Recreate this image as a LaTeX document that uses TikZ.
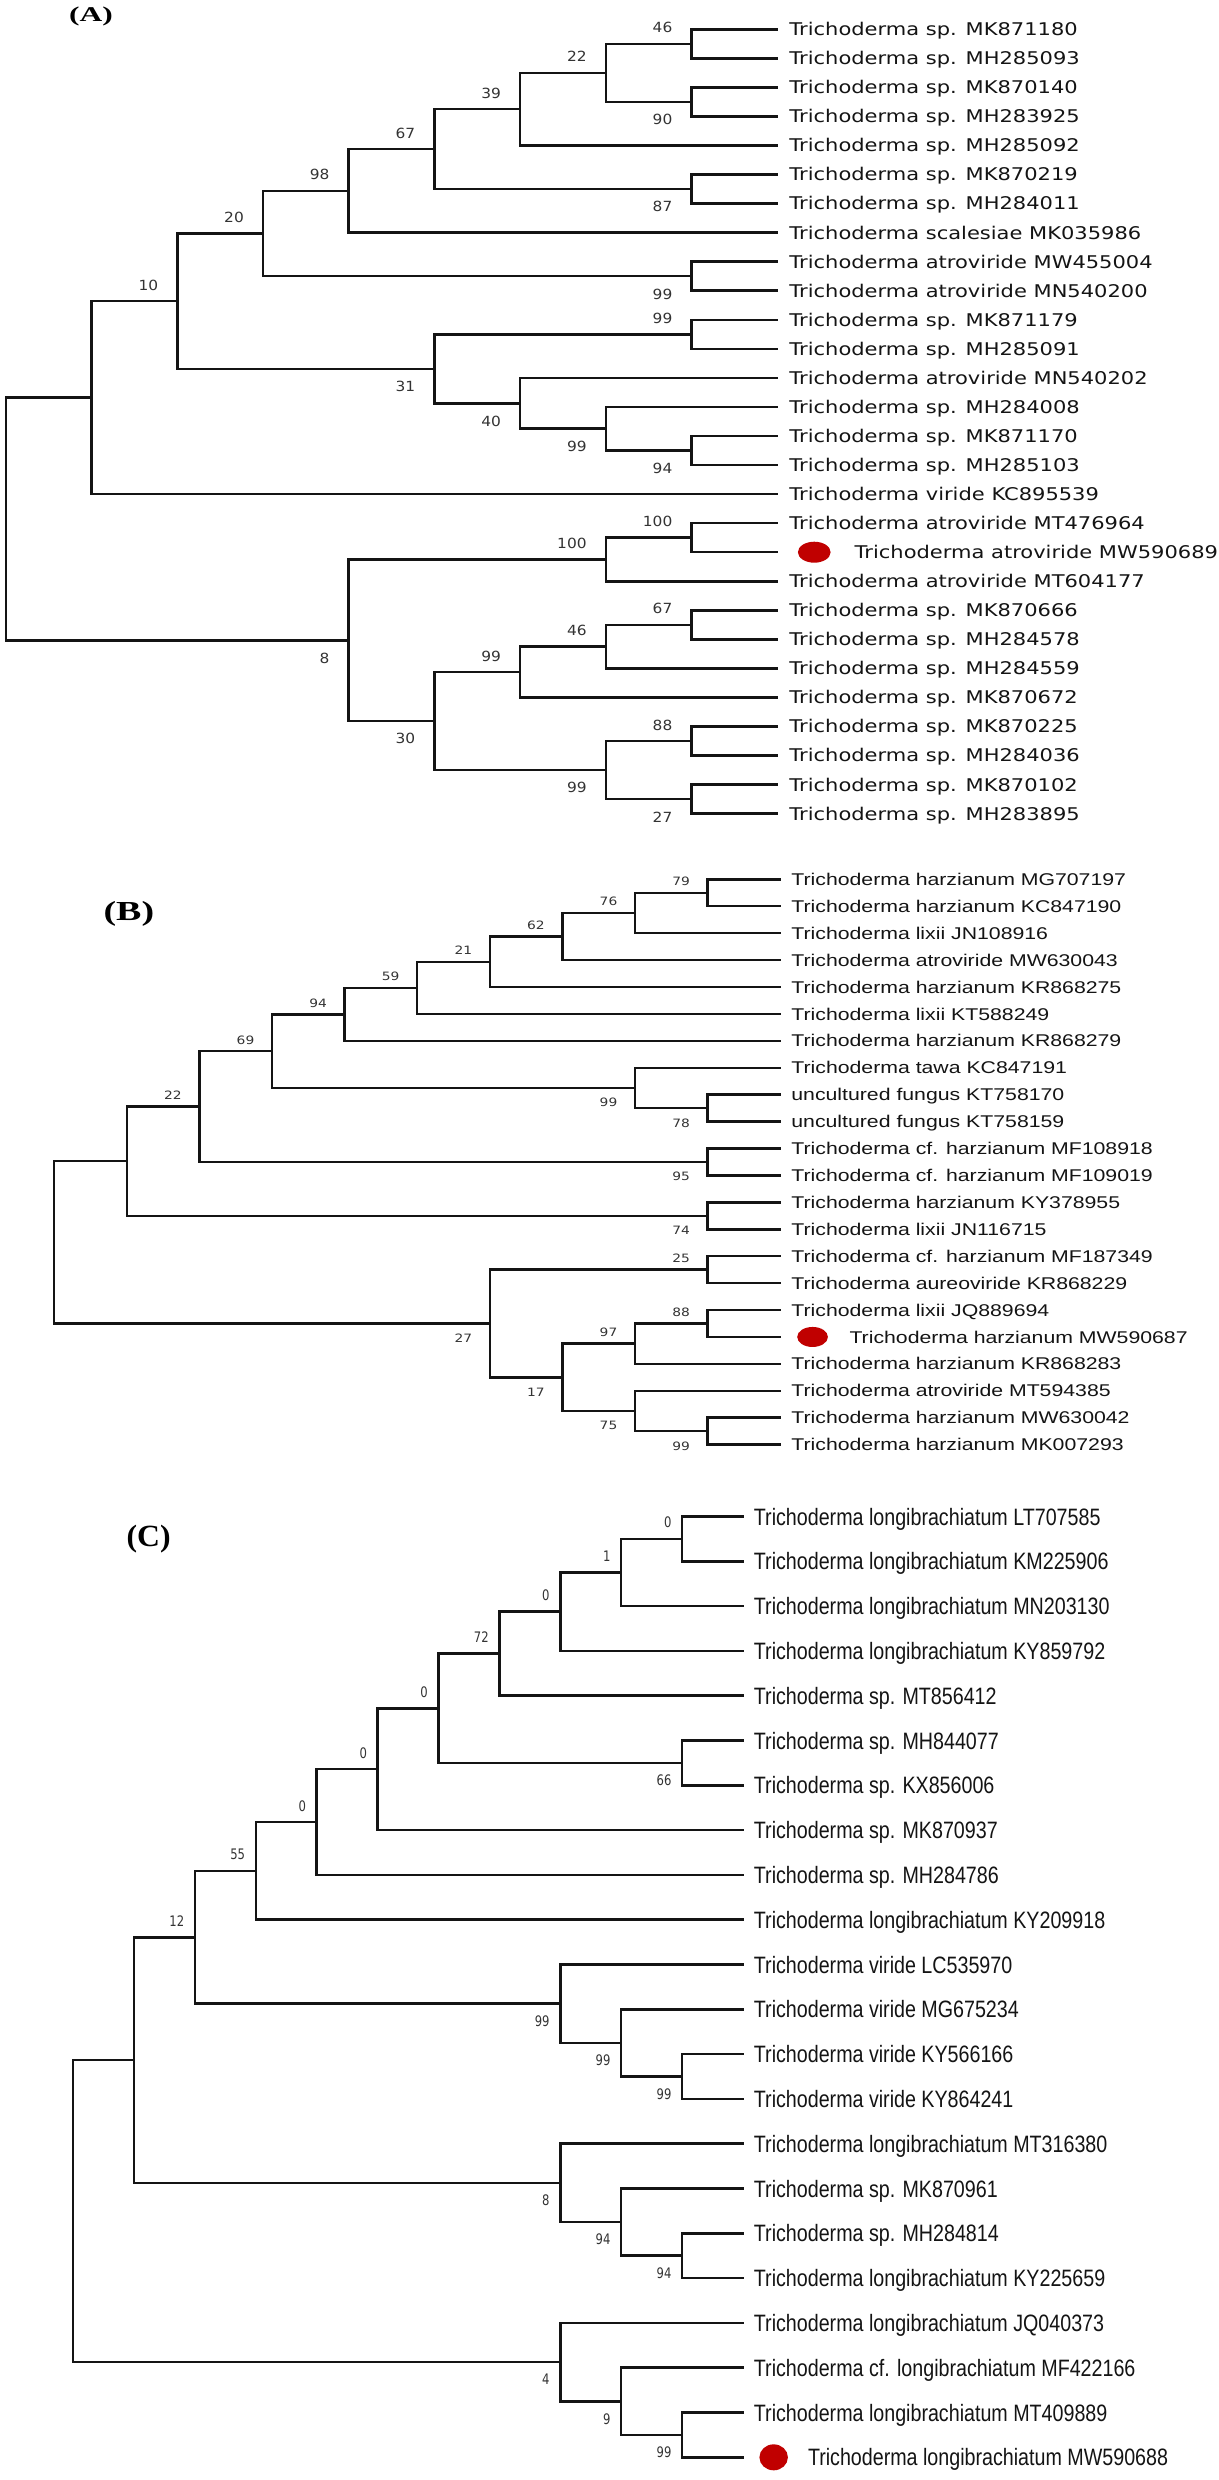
\documentclass[tikz,border=0pt]{standalone}
\usepackage{fontspec}
\usetikzlibrary{positioning,shapes.geometric}
\definecolor{ink}{HTML}{141414}
\definecolor{lbl}{HTML}{333333}
\definecolor{dotred}{HTML}{C00000}
\newfontfamily\tipAfont[FakeStretch=1.2]{DejaVu Sans}
\newfontfamily\tipBfont[FakeStretch=1.25]{Liberation Sans}
\newfontfamily\tipCfont[FakeStretch=0.83]{Liberation Sans}
\newfontfamily\bsAfont[FakeStretch=1.1]{DejaVu Sans}
\newfontfamily\bsBfont[FakeStretch=1.2]{DejaVu Sans}
\newfontfamily\bsCfont[FakeStretch=0.8]{DejaVu Sans}
\newfontfamily\panAfont[FakeStretch=1.5]{Liberation Serif}
\newfontfamily\panBfont[FakeStretch=1.38]{Liberation Serif}
\newfontfamily\panCfont[FakeStretch=1.03]{Liberation Serif}

\begin{document}
\begin{tikzpicture}[x=1pt,y=-1pt,
    branch/.style={line width=2.5pt,line cap=rect,draw=ink},
    tipA/.style={font=\tipAfont\fontsize{17.5}{20}\selectfont,text=ink,inner sep=0pt,text height=12.8pt,text depth=0pt},
    tipB/.style={font=\tipBfont\fontsize{17}{20}\selectfont,text=ink,inner sep=0pt,text height=12.2pt,text depth=0pt},
    tipC/.style={font=\tipCfont\fontsize{23.7}{26}\selectfont,text=ink,inner sep=0pt,text height=17pt,text depth=0pt},
    supA/.style={font=\bsAfont\fontsize{14}{14}\selectfont,text=lbl,anchor=east,inner sep=0pt,text height=10.2pt,text depth=0pt,xshift=-19pt,yshift=#1pt},
    supB/.style={font=\bsBfont\fontsize{11.5}{12}\selectfont,text=lbl,anchor=east,inner sep=0pt,text height=8.4pt,text depth=0pt,xshift=-17.5pt,yshift=#1pt},
    supC/.style={font=\bsCfont\fontsize{14.5}{15}\selectfont,text=lbl,anchor=east,inner sep=0pt,text height=10.6pt,text depth=0pt,xshift=-10.5pt,yshift=#1pt},
    dotmark/.style={ellipse,fill=dotred,inner sep=0pt},
    panel/.style={inner sep=0pt,text=black}]

  \fill[white] (0,0) rectangle (1218,2480);
  \useasboundingbox (0,0) rectangle (1218,2480);

  % (A)
  \node[panel,font=\panAfont\bfseries\fontsize{21}{23}\selectfont] (pA) at (90.9,16) {(A)};
  \foreach \i in {1,...,28}
    \coordinate (a\i) at ({5.9+85.7*9},{29.3+(\i-1)*29.05});
  \foreach \nm/\kk/\ty in {aN46/8/1.5,aN90/8/3.5,aN22/7/2.5,aN39/6/3.75,aN87/8/6.5,aN67/5/5.125,
      aN98/4/6.5625,aN99a/8/9.5,aN20/3/8.03125,aN99b/8/11.5,aN94/8/15.5,aN99c/7/14.75,
      aN40/6/13.875,aN31/5/12.6875,aN10/2/10.359375,aNtop/1/13.6796875,aN100b/8/18.5,
      aN100a/7/19.25,aN67b/8/21.5,aN46b/7/22.25,aN99d/6/23.125,aN88/8/25.5,aN27/8/27.5,
      aN99e/7/26.5,aN30/5/24.8125,aN8/4/22.03125,aRoot/0/17.85546875}
    \coordinate (\nm) at ({5.9+85.7*\kk},{29.3+(\ty-1)*29.05});
  \foreach \p/\c/\d in {aN46/a1/a2,aN90/a3/a4,aN22/aN46/aN90,aN39/aN22/a5,aN87/a6/a7,
      aN67/aN39/aN87,aN98/aN67/a8,aN99a/a9/a10,aN20/aN98/aN99a,aN99b/a11/a12,aN94/a15/a16,
      aN99c/a14/aN94,aN40/a13/aN99c,aN31/aN99b/aN40,aN10/aN20/aN31,aNtop/aN10/a17,
      aN100b/a18/a19,aN100a/aN100b/a20,aN67b/a21/a22,aN46b/aN67b/a23,aN99d/aN46b/a24,
      aN88/a25/a26,aN27/a27/a28,aN99e/aN88/aN27,aN30/aN99d/aN99e,aN8/aN100a/aN30,
      aRoot/aNtop/aN8}
    \draw[branch] (\c) -| (\p) |- (\d);
  \foreach \nm/\v/\s in {aN46/46/16,aN90/90/-17.8,aN22/22/16,aN39/39/16,aN87/87/-17.8,
      aN67/67/16,aN98/98/16,aN99a/99/-17.8,aN20/20/16,aN10/10/16,aN99b/99/16,aN31/31/-17.8,
      aN40/40/-17.8,aN99c/99/-17.8,aN94/94/-17.8,aN100b/100/16,aN100a/100/16,aN8/8/-17.8,
      aN30/30/-17.8,aN99d/99/16,aN46b/46/16,aN67b/67/16,aN88/88/16,aN99e/99/-17.8,aN27/27/-17.8}
    \node[supA=\s] (l\nm) at (\nm) {\v};
  \foreach \i/\txt in {1/Trichoderma sp. MK871180,2/Trichoderma sp. MH285093,
      3/Trichoderma sp. MK870140,4/Trichoderma sp. MH283925,5/Trichoderma sp. MH285092,
      6/Trichoderma sp. MK870219,7/Trichoderma sp. MH284011,8/Trichoderma scalesiae MK035986,
      9/Trichoderma atroviride MW455004,10/Trichoderma atroviride MN540200,
      11/Trichoderma sp. MK871179,12/Trichoderma sp. MH285091,13/Trichoderma atroviride MN540202,
      14/Trichoderma sp. MH284008,15/Trichoderma sp. MK871170,16/Trichoderma sp. MH285103,
      17/Trichoderma viride KC895539,18/Trichoderma atroviride MT476964,
      20/Trichoderma atroviride MT604177,21/Trichoderma sp. MK870666,22/Trichoderma sp. MH284578,
      23/Trichoderma sp. MH284559,24/Trichoderma sp. MK870672,25/Trichoderma sp. MK870225,
      26/Trichoderma sp. MH284036,27/Trichoderma sp. MK870102,28/Trichoderma sp. MH283895}
    \node[tipA,right=12pt of a\i] (la\i) {\txt};
  \node[dotmark,minimum width=32.7pt,minimum height=21pt,right=20.5pt of a19] (da19) {};
  \node[tipA,right=23.7pt of da19] (la19) {Trichoderma atroviride MW590689};

  % (B)
  \node[panel,font=\panBfont\bfseries\fontsize{27.5}{30}\selectfont] (pB) at (128.9,914.2) {(B)};
  \foreach \i in {1,...,22}
    \coordinate (b\i) at ({54.2+72.6*10},{879.3+(\i-1)*26.92});
  \foreach \nm/\kk/\ty in {bN79/9/1.5,bN76/8/2.25,bN62/7/3.125,bN21/6/4.0625,bN59/5/5.03125,
      bN94/4/6.015625,bN78/9/9.5,bN99/8/8.75,bN69/3/7.3828125,bN95/9/11.5,bN22/2/9.44140625,
      bN74/9/13.5,bNtop/1/11.470703125,bN25/9/15.5,bN88/9/17.5,bN97/8/18.25,bN99b/9/21.5,
      bN75/8/20.75,bN17/7/19.5,bN27/6/17.5,bRoot/0/14.4853515625}
    \coordinate (\nm) at ({54.2+72.6*\kk},{879.3+(\ty-1)*26.92});
  \foreach \p/\c/\d in {bN79/b1/b2,bN76/bN79/b3,bN62/bN76/b4,bN21/bN62/b5,bN59/bN21/b6,
      bN94/bN59/b7,bN78/b9/b10,bN99/b8/bN78,bN69/bN94/bN99,bN95/b11/b12,bN22/bN69/bN95,
      bN74/b13/b14,bNtop/bN22/bN74,bN25/b15/b16,bN88/b17/b18,bN97/bN88/b19,bN99b/b21/b22,
      bN75/b20/bN99b,bN17/bN97/bN75,bN27/bN25/bN17,bRoot/bNtop/bN27}
    \draw[branch] (\c) -| (\p) |- (\d);
  \foreach \nm/\v/\s in {bN79/79/11.3,bN76/76/11.3,bN62/62/11.3,bN21/21/11.3,bN59/59/11.3,
      bN94/94/11.3,bN69/69/11.3,bN22/22/11.3,bN99/99/-14.7,bN78/78/-14.7,bN95/95/-14.7,
      bN74/74/-14.7,bN25/25/11.3,bN88/88/11.3,bN97/97/11.3,bN17/17/-14.7,bN27/27/-14.7,
      bN75/75/-14.7,bN99b/99/-14.7}
    \node[supB=\s] (l\nm) at (\nm) {\v};
  \foreach \i/\txt in {1/Trichoderma harzianum MG707197,2/Trichoderma harzianum KC847190,
      3/Trichoderma lixii JN108916,4/Trichoderma atroviride MW630043,
      5/Trichoderma harzianum KR868275,6/Trichoderma lixii KT588249,
      7/Trichoderma harzianum KR868279,8/Trichoderma tawa KC847191,9/uncultured fungus KT758170,
      10/uncultured fungus KT758159,11/Trichoderma cf. harzianum MF108918,
      12/Trichoderma cf. harzianum MF109019,13/Trichoderma harzianum KY378955,
      14/Trichoderma lixii JN116715,15/Trichoderma cf. harzianum MF187349,
      16/Trichoderma aureoviride KR868229,17/Trichoderma lixii JQ889694,
      19/Trichoderma harzianum KR868283,20/Trichoderma atroviride MT594385,
      21/Trichoderma harzianum MW630042,22/Trichoderma harzianum MK007293}
    \node[tipB,right=11pt of b\i] (lb\i) {\txt};
  \node[dotmark,minimum width=30.7pt,minimum height=20pt,right=16.8pt of b18] (db18) {};
  \node[tipB,right=21.2pt of db18] (lb18) {Trichoderma harzianum MW590687};

  % (C)
  \node[panel,font=\panCfont\bfseries\fontsize{30.8}{33}\selectfont] (pC) at (148.7,1539) {(C)};
  \foreach \i in {1,...,22}
    \coordinate (c\i) at ({73.1+60.9*11},{1516.5+(\i-1)*44.8});
  \foreach \nm/\kk/\ty in {cN0a/10/1.5,cN1/9/2.25,cN0b/8/3.125,cN72/7/4.0625,cN66/10/6.5,
      cN0c/6/5.28125,cN0d/5/6.640625,cN0e/4/7.8203125,cN55/3/8.91015625,cN99c/10/13.5,
      cN99b/9/12.75,cN99a/8/11.875,cN12/2/10.392578125,cN94b/10/17.5,cN94/9/16.75,
      cN8/8/15.875,cNmid/1/13.1337890625,cN99d/10/21.5,cN9/9/20.75,cN4/8/19.875,
      cRoot/0/16.50439453125}
    \coordinate (\nm) at ({73.1+60.9*\kk},{1516.5+(\ty-1)*44.8});
  \foreach \p/\c/\d in {cN0a/c1/c2,cN1/cN0a/c3,cN0b/cN1/c4,cN72/cN0b/c5,cN66/c6/c7,
      cN0c/cN72/cN66,cN0d/cN0c/c8,cN0e/cN0d/c9,cN55/cN0e/c10,cN99c/c13/c14,cN99b/c12/cN99c,
      cN99a/c11/cN99b,cN12/cN55/cN99a,cN94b/c17/c18,cN94/c16/cN94b,cN8/c15/cN94,
      cNmid/cN12/cN8,cN99d/c21/c22,cN9/c20/cN99d,cN4/c19/cN9,cRoot/cNmid/cN4}
    \draw[branch] (\c) -| (\p) |- (\d);
  \foreach \nm/\v/\s in {cN0a/0/16.3,cN1/1/16.3,cN0b/0/16.3,cN72/72/16.3,cN66/66/-17.5,
      cN0c/0/16.3,cN0d/0/16.3,cN0e/0/16.3,cN55/55/16.3,cN12/12/16.3,cN99a/99/-17.5,
      cN99b/99/-17.5,cN99c/99/-17.5,cN8/8/-17.5,cN94/94/-17.5,cN94b/94/-17.5,cN4/4/-17.5,
      cN9/9/-17.5,cN99d/99/-17.5}
    \node[supC=\s] (l\nm) at (\nm) {\v};
  \foreach \i/\txt in {1/Trichoderma longibrachiatum LT707585,2/Trichoderma longibrachiatum KM225906,
      3/Trichoderma longibrachiatum MN203130,4/Trichoderma longibrachiatum KY859792,
      5/Trichoderma sp. MT856412,6/Trichoderma sp. MH844077,7/Trichoderma sp. KX856006,
      8/Trichoderma sp. MK870937,9/Trichoderma sp. MH284786,10/Trichoderma longibrachiatum KY209918,
      11/Trichoderma viride LC535970,12/Trichoderma viride MG675234,13/Trichoderma viride KY566166,
      14/Trichoderma viride KY864241,15/Trichoderma longibrachiatum MT316380,
      16/Trichoderma sp. MK870961,17/Trichoderma sp. MH284814,18/Trichoderma longibrachiatum KY225659,
      19/Trichoderma longibrachiatum JQ040373,20/Trichoderma cf. longibrachiatum MF422166,
      21/Trichoderma longibrachiatum MT409889}
    \node[tipC,right=10.7pt of c\i] (lc\i) {\txt};
  \node[dotmark,minimum width=28.5pt,minimum height=26pt,right=16.2pt of c22] (dc22) {};
  \node[tipC,right=19.7pt of dc22] (lc22) {Trichoderma longibrachiatum MW590688};
\end{tikzpicture}
\end{document}
